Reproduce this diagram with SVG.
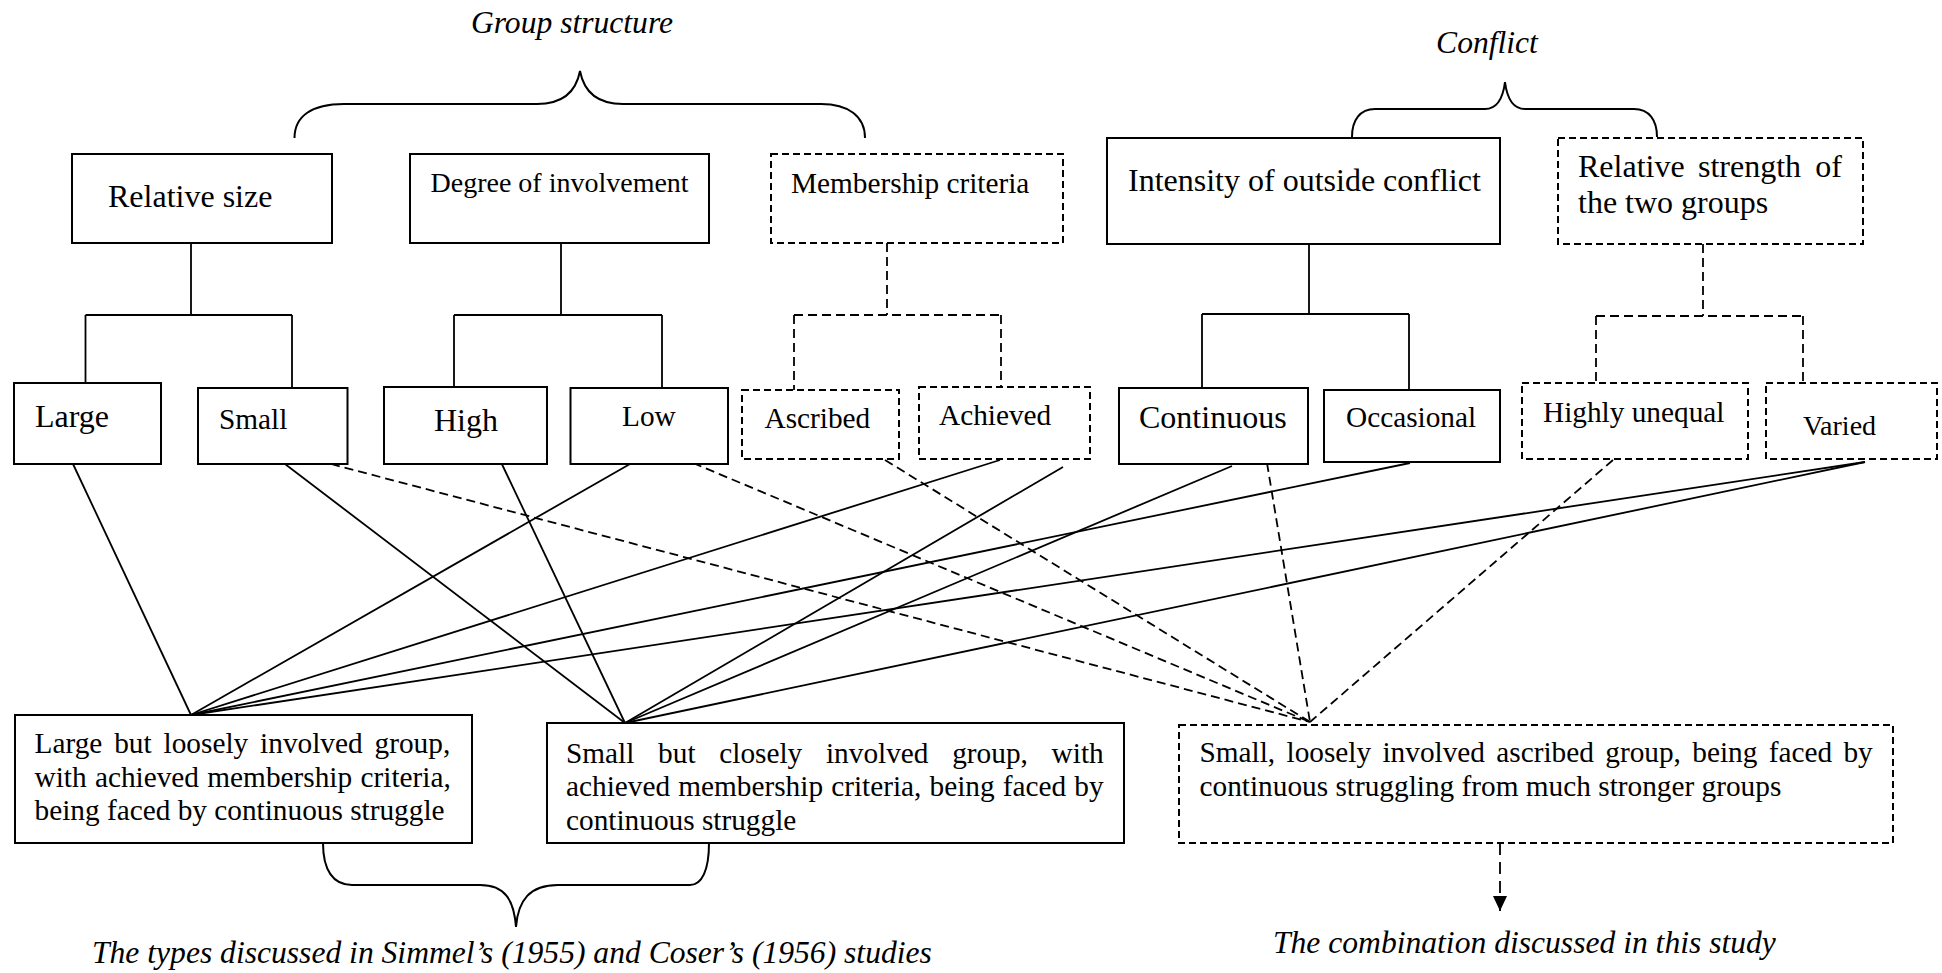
<svg xmlns="http://www.w3.org/2000/svg" width="1942" height="973" viewBox="0 0 1942 973">
  <style>
    .box { fill: #fff; stroke: #000; stroke-width: 2; }
    .dash { stroke-dasharray: 7 4; }
    .t { font-family: "Liberation Serif", "Times New Roman", serif; fill: #000; }
    .s29 { font-size: 29.3px; }
    .s32 { font-size: 32px; }
    .s28 { font-size: 28px; }
    .cap { font-style: italic; font-size: 31.6px; }
    .ln { stroke: #000; stroke-width: 1.8; fill: none; }
    .dl { stroke-dasharray: 9 5; }
    .brace { stroke: #000; stroke-width: 2; fill: none; }
  </style>
  <defs>
    <marker id="arrow" markerWidth="14" markerHeight="16" refX="7" refY="15" orient="0" markerUnits="userSpaceOnUse">
      <polygon points="0,0 14,0 7,15" fill="#000"/>
    </marker>
  </defs>
  <rect width="1942" height="973" fill="#fff"/>

  <!-- category captions and braces -->
  <g id="caption-group-structure">
    <text class="t cap" x="572" y="33" text-anchor="middle">Group structure</text>
    <path class="brace" d="M294.5,138 C294.5,116 312,104 344,104 L537,104 C562,104 576,92 580,71 C584,92 598,104 623,104 L821,104 C848,104 865,116 865,138"/>
  </g>
  <g id="caption-conflict">
    <text class="t cap" x="1487" y="53" text-anchor="middle">Conflict</text>
    <path class="brace" d="M1352,137 C1352,120 1360,109 1375,109 L1485,109 C1497,109 1503,98 1505,82 C1507,98 1513,109 1525,109 L1634,109 C1649,109 1657,120 1657,137"/>
  </g>

  <!-- connectors -->
  <g id="connectors">
    <!-- tree: relative size -->
    <path class="ln" d="M191,243 V315 M85.5,315 H292 M85.5,315 V388 M292,315 V388"/>
    <!-- tree: degree of involvement -->
    <path class="ln" d="M561,243 V315 M454,315 H662 M454,315 V387 M662,315 V391"/>
    <!-- tree: membership criteria -->
    <path class="ln dl" d="M887,243 V315 M794,315 H1001 M794,315 V390 M1001,315 V387"/>
    <!-- tree: intensity of outside conflict -->
    <path class="ln" d="M1309,244 V314 M1202,314 H1409 M1202,314 V388 M1409,314 V390"/>
    <!-- tree: relative strength -->
    <path class="ln dl" d="M1703,244 V316 M1596,316 H1803 M1596,316 V383 M1803,316 V383"/>

    <!-- combinations -->
    <line class="ln" x1="73" y1="464" x2="191" y2="715"/>
    <line class="ln" x1="285" y1="464" x2="625" y2="723"/>
    <line class="ln dl" x1="331" y1="464" x2="1310" y2="722"/>
    <line class="ln" x1="499" y1="458" x2="625" y2="723"/>
    <line class="ln" x1="630" y1="464" x2="191" y2="715"/>
    <line class="ln dl" x1="693" y1="463" x2="1310" y2="722"/>
    <line class="ln dl" x1="885" y1="460" x2="1310" y2="722"/>
    <line class="ln" x1="1000" y1="460" x2="191" y2="715"/>
    <line class="ln" x1="1063" y1="467" x2="625" y2="723"/>
    <line class="ln" x1="1232" y1="466" x2="625" y2="723"/>
    <line class="ln dl" x1="1267" y1="463" x2="1310" y2="722"/>
    <line class="ln" x1="1410" y1="463" x2="191" y2="715"/>
    <line class="ln dl" x1="1613" y1="460" x2="1310" y2="722"/>
    <line class="ln" x1="1865" y1="462" x2="191" y2="715"/>
    <line class="ln" x1="1865" y1="462" x2="625" y2="723"/>

    <!-- arrow to the study caption -->
    <line class="ln" x1="1500" y1="843" x2="1500" y2="911" stroke-dasharray="12 7" marker-end="url(#arrow)"/>
  </g>

  <!-- top row -->
  <g id="relative-size">
    <rect class="box" x="72" y="154" width="260" height="89"/>
    <text class="t s32" x="108" y="207">Relative size</text>
  </g>
  <g id="degree-of-involvement">
    <rect class="box" x="410" y="154" width="299" height="89"/>
    <text class="t s28" x="430.5" y="192">Degree of involvement</text>
  </g>
  <g id="membership-criteria">
    <rect class="box dash" x="771" y="154" width="292" height="89"/>
    <text class="t s29" x="791" y="193">Membership criteria</text>
  </g>
  <g id="intensity-of-conflict">
    <rect class="box" x="1107" y="138" width="393" height="106"/>
    <text class="t s32" x="1128" y="191">Intensity of outside conflict</text>
  </g>
  <g id="relative-strength">
    <rect class="box dash" x="1558" y="138" width="305" height="106"/>
    <text class="t s32" y="177"><tspan x="1578">Relative</tspan><tspan x="1698">strength</tspan><tspan x="1842" text-anchor="end">of</tspan></text>
    <text class="t s32" x="1578" y="213">the two groups</text>
  </g>

  <!-- second row -->
  <g id="large">
    <rect class="box" x="14" y="383" width="147" height="81"/>
    <text class="t s32" x="35" y="427">Large</text>
  </g>
  <g id="small">
    <rect class="box" x="198" y="388" width="149.5" height="76"/>
    <text class="t s29" x="219" y="429">Small</text>
  </g>
  <g id="high">
    <rect class="box" x="384" y="387" width="163" height="77"/>
    <text class="t s32" x="434" y="431">High</text>
  </g>
  <g id="low">
    <rect class="box" x="570.5" y="388" width="157.5" height="76"/>
    <text class="t s29" x="622" y="426">Low</text>
  </g>
  <g id="ascribed">
    <rect class="box dash" x="742" y="390" width="157" height="69"/>
    <text class="t s29" x="764.5" y="428">Ascribed</text>
  </g>
  <g id="achieved">
    <rect class="box dash" x="919" y="387" width="171" height="72"/>
    <text class="t s29" x="939" y="425">Achieved</text>
  </g>
  <g id="continuous">
    <rect class="box" x="1119" y="388" width="189" height="76"/>
    <text class="t s32" x="1139" y="428">Continuous</text>
  </g>
  <g id="occasional">
    <rect class="box" x="1324" y="390" width="176" height="72"/>
    <text class="t s29" x="1346" y="427">Occasional</text>
  </g>
  <g id="highly-unequal">
    <rect class="box dash" x="1522" y="383" width="226" height="76"/>
    <text class="t s29" x="1543" y="422">Highly unequal</text>
  </g>
  <g id="varied">
    <rect class="box dash" x="1766" y="383" width="171" height="76"/>
    <text class="t s28" x="1803" y="435">Varied</text>
  </g>

  <!-- combinations row -->
  <g id="large-loose">
    <rect class="box" x="15" y="715" width="457" height="128"/>
    <text class="t s29" x="34.5" y="753" word-spacing="4.6">Large but loosely involved group,</text>
    <text class="t s29" x="34.5" y="787" word-spacing="1">with achieved membership criteria,</text>
    <text class="t s29" x="34.5" y="820">being faced by continuous struggle</text>
  </g>
  <g id="small-close">
    <rect class="box" x="547" y="723" width="577" height="120"/>
    <text class="t s29" x="566" y="763" word-spacing="16.4">Small but closely involved group, with</text>
    <text class="t s29" x="566" y="796" word-spacing="0.8">achieved membership criteria, being faced by</text>
    <text class="t s29" x="566" y="830">continuous struggle</text>
  </g>
  <g id="small-ascribed">
    <rect class="box dash" x="1179" y="725" width="714" height="118"/>
    <text class="t s29" x="1199.5" y="762" word-spacing="4">Small, loosely involved ascribed group, being faced by</text>
    <text class="t s29" x="1199.5" y="796">continuous struggling from much stronger groups</text>
  </g>

  <!-- bottom captions -->
  <g id="caption-earlier-studies">
    <path class="brace" d="M323,843 C323,870 333,885 352,885 L480,885 C505,885 514,900 516,927 C518,900 530,885 558,885 L690,885 C702,885 709,870 709,843"/>
    <text class="t cap" x="92" y="963">The types discussed in Simmel’s (1955) and Coser’s (1956) studies</text>
  </g>
  <g id="caption-this-study">
    <text class="t cap" x="1273" y="953">The combination discussed in this study</text>
  </g>
</svg>
